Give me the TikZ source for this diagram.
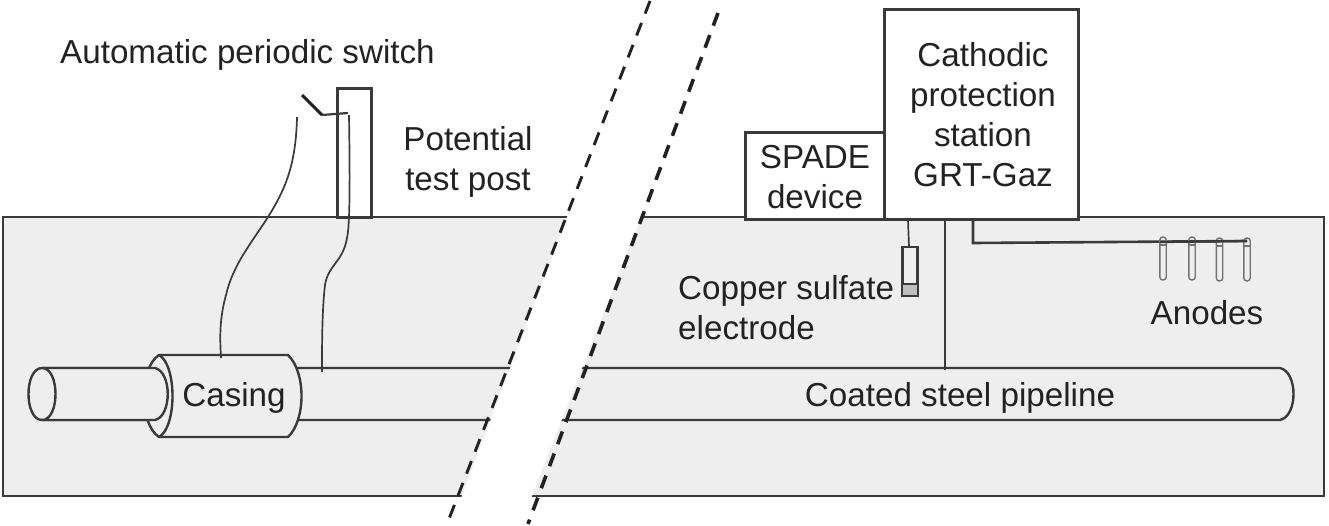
\documentclass[tikz,border=0pt]{standalone}
\usepackage{fontspec}
\setmainfont{Liberation Sans}
\definecolor{ground}{HTML}{EEEEEE}
\definecolor{ink}{HTML}{3A3A3A}
\definecolor{txt}{HTML}{222222}
\tikzset{
 wire/.style={draw=ink,line width=1.7pt,line join=round},
 pipeline/.style={draw=ink,line width=2.4pt,line join=round},
 heavy/.style={draw=ink,line width=3pt,line join=miter},
 dashline/.style={draw=txt,line width=3.6pt,dash pattern=on 13.5pt off 10pt},
 lab/.style={text=txt,font=\fontsize{33.2}{40}\selectfont,inner sep=0pt,align=center},
 labl/.style={lab,align=left,anchor=west}
}
\begin{document}
\begin{tikzpicture}[x=1pt,y=-1pt]
\useasboundingbox (0,0) rectangle (1329,525);
\fill[white] (0,0) rectangle (1329,525);
\path[draw=ink,fill=ground,line width=1.6pt] (3,217) rectangle (1324,496);
% pipe
\path[pipeline,fill=ground] (42,368) -- (1280,368) .. controls (1298,372) and (1298,416) .. (1280,420) -- (42,420);
% casing
\path[pipeline,fill=ground] (159,355) .. controls (139,368) and (139,424) .. (159,437) -- (288,437) .. controls (306,420) and (306,372) .. (288,355) -- cycle;
\path[pipeline,fill=ground] (159,355) .. controls (177,365) and (177,427) .. (159,437);
\path[pipeline,fill=ground] (42,368) -- (155,368) .. controls (172,372) and (172,416) .. (155,420) -- (42,420);
\path[pipeline,fill=ground] (42,368) .. controls (24,368) and (24,420) .. (42,420) .. controls (60,420) and (60,368) .. (42,368);
% gap
\fill[white] (569,212) -- (643,212) -- (530,501) -- (460,501) -- cycle;
\draw[dashline,line width=2.9pt] (650,1) -- (447,524);
\draw[dashline] (718,13) -- (528,524);
% boxes
\node[heavy,draw,fill=white,minimum width=139pt,minimum height=87pt,inner sep=0pt,outer sep=0pt,anchor=north west] (spade) at (745.5,132) {};
\node[heavy,draw,fill=white,minimum width=194pt,minimum height=210pt,inner sep=0pt,outer sep=0pt,anchor=north west] (station) at (884,9.5) {};
\node[heavy,draw,fill=none,minimum width=34pt,minimum height=129pt,inner sep=0pt,outer sep=0pt,anchor=north west] (post) at (337,88) {};
% wires left
\coordinate (sw1) at (302,95); \coordinate (sw2) at (322,115); \coordinate (sw3) at (348,113);
\coordinate (c1) at (297,117); \coordinate (c2) at (221,358);
\coordinate (p1) at (349,115); \coordinate (p2) at (322,372);
\draw[draw=txt,line width=3pt] (sw1) -- (sw2);
\draw[wire,line width=2.2pt] (sw2) -- (sw3);
\draw[wire] (c1) .. controls (296,165) and (285,190) .. (268,217) .. controls (250,245) and (233,265) .. (226,295) .. controls (219,320) and (220,340) .. (c2);
\draw[wire] (p1) .. controls (350,180) and (350,225) .. (347,238) .. controls (343,262) and (328,265) .. (325,285) .. controls (322,310) and (322,345) .. (p2);
% wires right
\coordinate (st1) at (945,220); \coordinate (st2) at (945,370);
\coordinate (an0) at (973,220); \coordinate (an1) at (973,243); \coordinate (an2) at (1247,241);
\draw[heavy,line width=2.5pt] (st1) -- (st2);
\draw[heavy,line width=2.6pt] (an0) -- (an1) -- (an2);
\draw[wire] (908,220) -- (909,247);
% electrode
\node[heavy,line width=2.4pt,fill=ground,minimum width=15pt,minimum height=49pt,inner sep=0pt,outer sep=0pt,anchor=north west] (elec) at (902.5,247) {};
\path[draw=ink,line width=1.8pt,fill=black!25] (902.5,284) rectangle (917.5,296);
% anodes
\foreach \x/\y in {1163/237,1192/237,1219.5/238,1247/238}{
 \draw[draw=black!55,line width=1.4pt,rounded corners=3pt] (\x-3.2,\y) rectangle (\x+3.2,\y+43);
 \draw[draw=black!55,line width=1.2pt] (\x-3.2,\y+8) -- (\x+3.2,\y+8);
}
\draw[heavy,line width=2.3pt] (1160,242) -- (an2);
% labels
\node[labl] (t1) at (60,55) {Automatic periodic switch};
\node[lab] (t2) at (468,162) {Potential\\test post};
\node[lab] (t3) at (815,177) {SPADE\\device};
\node[lab] (t4) at (983,115) {Cathodic\\protection\\station\\GRT-Gaz};
\node[labl] (t5) at (678,308) {Copper sulfate\\electrode};
\node[lab] (t6) at (1207,313) {Anodes};
\node[lab] (t7) at (960,398) {Coated steel pipeline};
\node[lab] (t8) at (234,398) {Casing};
\end{tikzpicture}
\end{document}
